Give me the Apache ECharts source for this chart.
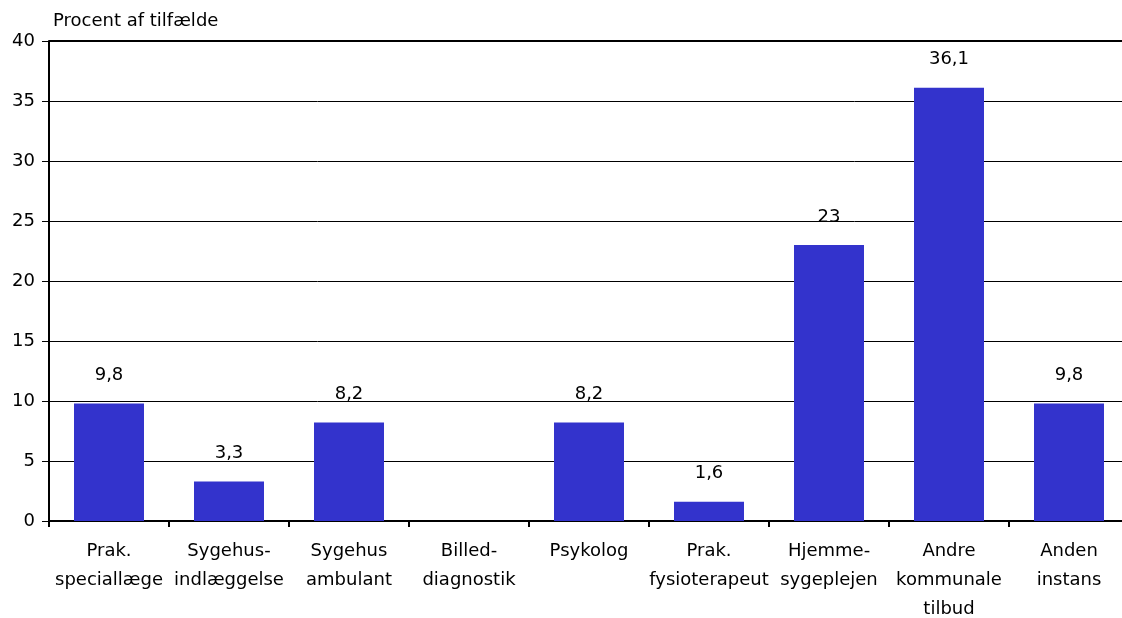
<!DOCTYPE html>
<html>
<head>
<meta charset="utf-8">
<script src="https://cdn.jsdelivr.net/npm/echarts@6/dist/echarts.min.js"></script>
<style>
  html, body { margin: 0; padding: 0; background: #fff; }
  #chart { width: 1122px; height: 618px; }
</style>
</head>
<body>
<div id="chart"></div>
<script>
// Categories and shares (percent of cases)
const categories = [
  'Prak.\nspeciallæge',
  'Sygehus-\nindlæggelse',
  'Sygehus\nambulant',
  'Billed-\ndiagnostik',
  'Psykolog',
  'Prak.\nfysioterapeut',
  'Hjemme-\nsygeplejen',
  'Andre\nkommunale\ntilbud',
  'Anden\ninstans'
];
const values = [9.8, 3.3, 8.2, 0, 8.2, 1.6, 23, 36.1, 9.8];
const yTicks = [0, 5, 10, 15, 20, 25, 30, 35, 40];
const yTitle = 'Procent af tilfælde';

const FONT = '"DejaVu Sans", "Liberation Sans", Arial, sans-serif';
const chart = echarts.init(document.getElementById('chart'), null, { renderer: 'canvas' });

chart.setOption({
  animation: false,
  backgroundColor: '#ffffff',
  grid: {
    left: 49, top: 41, width: 1080, height: 480,
    containLabel: false,
    outerBoundsMode: 'none'
  },
  graphic: [{
    type: 'text',
    left: 53,
    top: 12,
    style: { text: yTitle, font: '18px ' + FONT, fill: '#000' }
  }, {
    // heavier top border of the plot area
    type: 'line',
    shape: { x1: 49, y1: 41, x2: 1122, y2: 41 },
    style: { stroke: '#000', lineWidth: 2 }
  }],
  xAxis: {
    type: 'category',
    data: categories,
    axisLine: { show: true, lineStyle: { color: '#000', width: 2 } },
    axisTick: { show: true, alignWithLabel: false, length: 6, lineStyle: { color: '#000', width: 2 } },
    axisLabel: {
      interval: 0,
      margin: 16,
      color: '#000',
      fontFamily: FONT,
      fontSize: 18,
      lineHeight: 29
    },
    splitLine: { show: false }
  },
  yAxis: {
    type: 'value',
    min: yTicks[0],
    max: yTicks[yTicks.length - 1],
    interval: 5,
    axisLine: { show: true, lineStyle: { color: '#000', width: 2 } },
    axisTick: { show: true, inside: false, length: 7, lineStyle: { color: '#000', width: 1 } },
    axisLabel: {
      margin: 14,
      color: '#000',
      fontFamily: FONT,
      fontSize: 18
    },
    splitLine: { show: true, lineStyle: { color: '#000', width: 1 } }
  },
  series: [{
    type: 'bar',
    data: values,
    barWidth: 70,
    itemStyle: { color: '#3333CC' },
    label: {
      show: true,
      position: 'top',
      distance: 19,
      color: '#000',
      fontFamily: FONT,
      fontSize: 18,
      formatter: p => (p.value === 0 ? '' : String(p.value).replace('.', ','))
    }
  }]
});
</script>
</body>
</html>
